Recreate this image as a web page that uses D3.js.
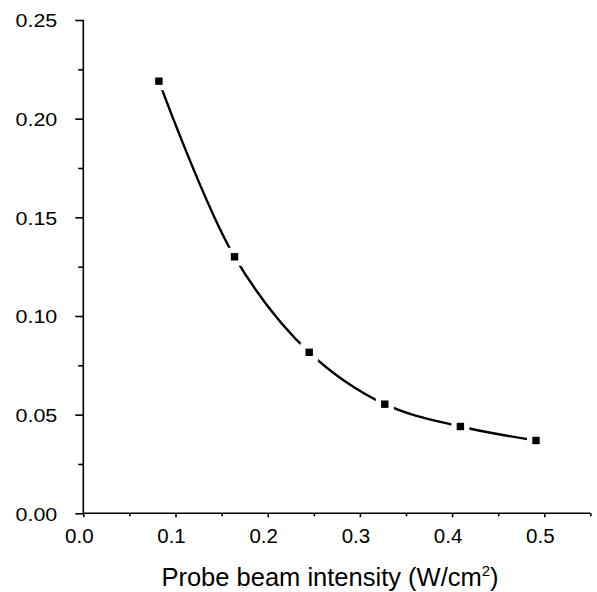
<!DOCTYPE html>
<html>
<head>
<meta charset="utf-8">
<script src="https://cdn.jsdelivr.net/npm/d3@7"></script>
<style>
  body { margin: 0; background: #fff; }
  svg { display: block; font-family: "Liberation Sans", Arial, Helvetica, sans-serif; }
</style>
</head>
<body>
<div id="chart"></div>
<script>
// measured points
const intensity = [0.082, 0.164, 0.245, 0.327, 0.409, 0.491];
const signal = [0.219, 0.130, 0.0816, 0.0553, 0.044, 0.0369];
const xMajor = [0, 0.1, 0.2, 0.3, 0.4, 0.5];
const xMinor = [0.05, 0.15, 0.25, 0.35, 0.45, 0.55];
const yMajor = [0, 0.05, 0.10, 0.15, 0.20, 0.25];
const yMinor = [0.025, 0.075, 0.125, 0.175, 0.225];
const xTitle = "Probe beam intensity (W/cm";

const width = 597, height = 592;
const svg = d3.select("#chart").append("svg")
  .attr("width", width).attr("height", height);

const xScale = d3.scaleLinear().domain([0, 0.55]).range([83.3, 590.4]);
const yScale = d3.scaleLinear().domain([0, 0.25]).range([513.3, 20]);

// x axis
const gx = svg.append("g").attr("transform", `translate(0,${yScale(0)})`);
gx.call(d3.axisBottom(xScale).tickValues(xMajor).tickSize(4).tickFormat(d3.format(".1f")));
gx.append("g").call(d3.axisBottom(xScale).tickValues(xMinor).tickSize(3).tickFormat(""))
  .select(".domain").remove();
gx.selectAll("text")
  .attr("y", 30).attr("dy", 0).attr("dx", -4.5)
  .style("font-size", "20.5px").style("fill", "#000");

// y axis
const gy = svg.append("g").attr("transform", `translate(${xScale(0)},0)`);
gy.call(d3.axisLeft(yScale).tickValues(yMajor).tickSize(8).tickFormat(d3.format(".2f")));
gy.append("g").call(d3.axisLeft(yScale).tickValues(yMinor).tickSize(5).tickFormat(""))
  .select(".domain").remove();
gy.selectAll(".tick text")
  .attr("x", 0).attr("dy", 0)
  .attr("transform", "translate(-26,6.8) scale(1.16,1)")
  .style("font-size", "18.5px").style("fill", "#000");

svg.selectAll(".domain").remove();
svg.append("line")
  .attr("x1", xScale(0)).attr("x2", xScale(0.55))
  .attr("y1", yScale(0)).attr("y2", yScale(0))
  .attr("stroke", "#000").attr("stroke-width", 1.6);
svg.append("line")
  .attr("x1", xScale(0)).attr("x2", xScale(0))
  .attr("y1", yScale(0)).attr("y2", yScale(0.25))
  .attr("stroke", "#000").attr("stroke-width", 1.6);
svg.selectAll(".tick line").attr("stroke", "#000").attr("stroke-width", 1.6);

// curve
const pts = intensity.map((x, i) => [x, signal[i]]);
const line = d3.line()
  .x(d => xScale(d[0]))
  .y(d => yScale(d[1]))
  .curve(d3.curveCatmullRom.alpha(0.5));
svg.append("path")
  .attr("d", line(pts))
  .attr("fill", "none")
  .attr("stroke", "#000")
  .attr("stroke-width", 2.4);

// markers with white halo to leave gaps
const mk = svg.append("g").selectAll("g").data(pts).enter().append("g")
  .attr("transform", d => `translate(${xScale(d[0])},${yScale(d[1])})`);
mk.append("rect")
  .attr("x", -9).attr("y", -9).attr("width", 18).attr("height", 18)
  .attr("fill", "#fff");
mk.append("rect")
  .attr("x", -3.7).attr("y", -3.7).attr("width", 7.4).attr("height", 7.4)
  .attr("fill", "#000");

// x title
const t = svg.append("text")
  .attr("x", 330).attr("y", 586)
  .attr("text-anchor", "middle")
  .style("font-size", "25.5px")
  .style("fill", "#000");
t.append("tspan").text(xTitle);
t.append("tspan").attr("dy", -10).style("font-size", "15px").text("2");
t.append("tspan").attr("dy", 10).text(")");
</script>
</body>
</html>
